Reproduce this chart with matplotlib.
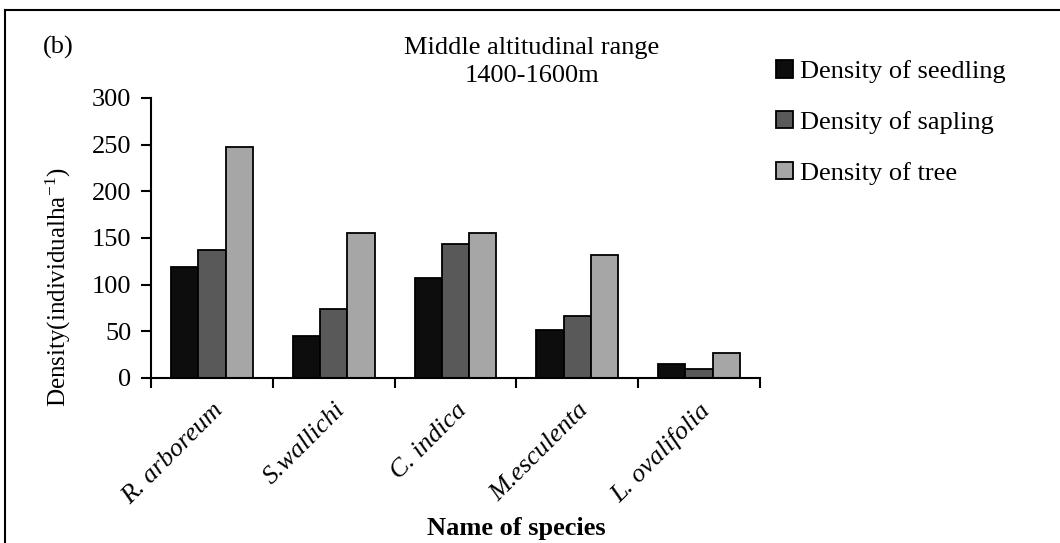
import matplotlib
matplotlib.use("Agg")
import matplotlib.pyplot as plt
from matplotlib.lines import Line2D
import numpy as np

plt.rcParams['font.family'] = ['Liberation Serif', 'DejaVu Serif']
plt.rcParams['mathtext.fontset'] = 'custom'
plt.rcParams['mathtext.rm'] = 'Liberation Serif'
plt.rcParams['mathtext.default'] = 'regular'

# density (individuals per ha) in the 1400-1600 m belt
species = ['R. arboreum', 'S.wallichi', 'C. indica', 'M.esculenta', 'L. ovalifolia']
seedling = [119, 45, 107, 51, 15]
sapling = [137, 74, 144, 66, 10]
tree = [248, 155, 155, 132, 27]

series = [('Density of seedling', seedling, '#0d0d0d'),
          ('Density of sapling', sapling, '#595959'),
          ('Density of tree', tree, '#a6a6a6')]

FS = 19

fig = plt.figure(figsize=(10.6, 5.43), dpi=100)
ax = fig.add_axes([151/1060, 1-378/543, (760-151)/1060, (378-98)/543])

x = np.arange(len(species))
w = 0.224
for i, (lab, vals, col) in enumerate(series):
    ax.bar(x + (i-1)*w, vals, w, color=col, edgecolor='black', linewidth=1.3, label=lab, zorder=2)

ax.set_xlim(-0.5, len(species)-0.5)
ax.set_ylim(0, 300)
ax.set_yticks(range(0, 301, 50))
ax.tick_params(axis='y', labelsize=FS, direction='out', length=7, width=1.5, pad=7)

ax.set_xticks(x)
ax.set_xticklabels(species, rotation=45, ha='right', va='top', rotation_mode='anchor',
                   style='italic', fontsize=FS)
ax.tick_params(axis='x', which='major', length=0, pad=15)
ax.set_xticks(np.arange(-0.5, len(species), 1), minor=True)
ax.tick_params(axis='x', which='minor', direction='out', length=7, width=1.5)

for s in ['top', 'right']:
    ax.spines[s].set_visible(False)
for s in ['left', 'bottom']:
    ax.spines[s].set_linewidth(1.5)

fig.text(58/1060, 1-287/543, r'Density(individualha$^{-1}$)', rotation=90,
         ha='center', va='center', fontsize=18)
fig.text(516/1060, 1-528/543, 'Name of species', ha='center', va='center',
         fontsize=FS, fontweight='bold')
fig.text(532/1060, 1-62/543, 'Middle altitudinal range\n1400-1600m', ha='center',
         va='center', fontsize=FS, linespacing=1.35)
fig.text(43/1060, 1-47/543, '(b)', ha='left', va='center', fontsize=FS)

ax.legend(loc='upper left', bbox_to_anchor=(776/1060, 1-60/543),
          bbox_transform=fig.transFigure, frameon=False, fontsize=FS,
          handlelength=0.65, handleheight=0.65, handletextpad=0.25,
          labelspacing=1.05, borderaxespad=0, borderpad=0)

# outer border, only the top and left edges fall inside the image
fig.add_artist(Line2D([5/1060, 5/1060], [0, 1-10/543], transform=fig.transFigure,
                      color='black', linewidth=1.5))
fig.add_artist(Line2D([5/1060, 1], [1-10/543, 1-10/543], transform=fig.transFigure,
                      color='black', linewidth=1.5))

fig.savefig('out.png', dpi=100)
